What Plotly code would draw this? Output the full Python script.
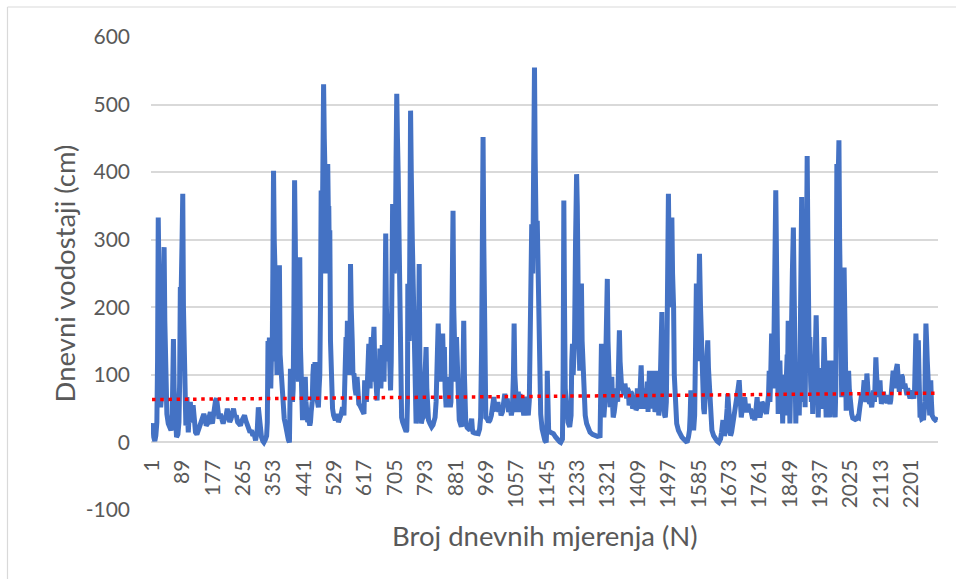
import plotly.graph_objects as go

# Daily water levels (day index N, level in cm), by period
seg_1 = [(1,22),(3,28),(6,8),(9,2),(12,10),(15,30),(17,120),(19,333),(21,250),(23,90),(26,52),(29,70),
         (32,140),(34,230),(36,289),(38,180),(41,60),(44,42),(48,28),(52,23),(56,18),(59,25),(61,60),
         (63,153),(65,80),(68,20),(72,8),(76,12),(79,30),(81,90),(83,230),(85,210),(88,300),(90,368),
         (92,200),(95,90),(97,60),(99,25),(102,67),(104,30),(106,15),(109,45),(112,60),(114,35),(117,30),
         (120,55),(123,25),(127,15),(131,12),(135,18),(139,22),(143,30),(147,35),(151,42),(155,35),
         (158,25),(162,28),(166,38),(170,45),(173,32),(176,28),(179,40),(182,55),(185,62),(188,65),
         (191,40),(195,35),(199,42),(203,30),(207,28),(211,35),(215,38),(219,50),(222,40),(226,30),
         (230,35),(234,45),(237,50),(241,38),(245,40),(249,30),(253,28),(257,25),(261,32),(265,35),
         (269,40),(273,32),(277,25),(281,20),(285,15),(289,18),(293,10),(297,12)]
seg_2 = [(301,3),(304,12),(306,20),(309,52),(312,35),(315,18),(318,8),(322,2),(325,0),(329,4),(333,10),
         (335,30),(337,150),(339,120),(341,155),(343,100),(345,80),(347,130),(349,120),(351,250),(353,402),
         (355,300),(357,260),(359,200),(361,120),(363,100),(366,150),(368,200),(370,262),(372,130),(374,110),
         (376,121),(378,70),(381,60),(384,35),(387,28),(390,15),(393,10),(396,4),(399,0),(401,50),(402,109),
         (404,60),(406,90),(408,60),(410,80),(412,200),(414,388),(416,300),(418,200),(420,260),(421,150),
         (423,120),(425,90),(427,180),(429,274),(431,140),(433,80),(435,50),(437,33),(439,45),(441,50),
         (443,80),(445,97),(447,60),(449,40),(452,30),(455,35),(458,25),(460,30),(462,45),(465,60),(467,100),
         (469,116),(471,70),(473,119),(475,90),(477,70),(480,60),(483,52),(485,80),(487,100),(489,200),
         (491,373),(493,300),(495,350),(498,530),(500,450),(502,400),(504,250),(506,300),(508,380),(510,412),
         (512,330),(513,350),(515,250),(516,314),(518,150),(521,67),(524,50),(527,40),(530,35),(532,33),
         (535,38),(538,42),(541,30),(545,35),(549,42),(553,52),(555,45),(557,40),(559,80),(561,120),(563,156),
         (565,110),(567,180),(569,130),(571,150),(573,100),(575,180),(576,264),(578,200),(581,150),(583,100),
         (586,102),(589,80),(592,70),(595,97),(597,60),(600,57),(603,55),(607,50),(611,45),(615,42),(617,92),
         (619,70),(622,60),(625,90),(627,120),(629,146),(631,100),(633,80),(634,130),(636,156),(638,110),
         (640,90),(642,150),(644,171),(646,120),(649,70),(651,80),(653,62),(655,90),(657,100),(659,80),
         (661,139),(663,100),(664,80),(666,120),(668,144),(670,110),(673,90),(675,150),(678,309),(680,200),
         (683,150),(685,120),(687,166),(689,120),(692,77),(694,120),(696,200)]
seg_3 = [(698,353),(700,280),(703,250),(705,280),(706,300),(708,420),(710,516),(712,450),(714,400),(716,300),
         (718,180),(720,100),(722,60),(724,37),(727,30),(730,25),(734,18),(737,16),(739,18),(741,60),(742,235),
         (744,180),(746,150),(748,300),(750,491),(752,400),(755,300),(757,250),(760,205),(762,150),(764,60),
         (766,28),(768,50),(770,87),(772,60),(773,150),(775,264),(777,120),(779,50),(781,28),(784,35),(787,37),
         (789,60),(791,100),(793,120),(795,141),(797,80),(799,45),(802,33),(806,28),(811,23),(815,26),(818,30),
         (821,37),(824,60),(826,100),(828,140),(830,176),(832,140),(834,100),(836,120),(838,90),(840,130),
         (843,161),(845,120),(848,141),(850,80),(853,52),(855,70),(858,60),(861,97),(863,70),(865,52),(867,60),
         (869,150),(871,300),(873,343),(875,200),(878,150),(880,90),(883,156),(885,100),(887,60),(889,40),
         (891,33),(894,28),(897,23),(900,40),(902,120),(904,180),(906,100),(908,40),(910,28),(914,22),(918,20),
         (922,18),(925,30),(927,35),(929,20),(931,15),(936,14),(941,13),(946,13),(950,20),(953,37),(956,150),
         (958,330),(960,452),(962,300),(964,100),(966,50),(968,37),(972,35),(976,30),(980,33),(984,40),(988,55),
         (991,67),(995,50),(999,47),(1003,60),(1006,45),(1009,52),(1012,40),(1016,45),(1019,60),(1023,72),
         (1026,55),(1030,65),(1034,45),(1038,57),(1042,40),(1045,50),(1048,100),(1050,176),(1052,100),(1055,57),
         (1058,45),(1062,75),(1065,50),(1067,72),(1070,45),(1073,60),(1075,52),(1078,40),(1080,68),(1084,42),
         (1088,50),(1091,40),(1094,62),(1096,185),(1098,120),(1101,323),(1104,250),(1106,400),(1109,555),
         (1111,420),(1114,300),(1117,328),(1120,200),(1123,116),(1125,70),(1127,42),(1131,20),(1135,8),(1139,3),
         (1143,0),(1145,30),(1146,106),(1148,40),(1150,18),(1155,15),(1160,14),(1164,13),(1170,8),(1175,4),
         (1178,3),(1182,1),(1185,0),(1190,5)]
seg_4 = [(1192,100),(1194,358),(1196,200),(1198,80),(1202,42),(1206,30),(1211,23),(1215,40),(1217,120),
         (1219,146),(1221,100),(1223,130),(1225,150),(1228,300),(1231,397),(1233,350),(1236,200),(1238,130),
         (1240,106),(1242,150),(1245,235),(1247,150),(1250,116),(1253,60),(1256,40),(1260,28),(1265,20),
         (1270,15),(1277,12),(1284,10),(1291,9),(1299,10),(1301,60),(1303,146),(1305,90),(1307,50),(1310,37),
         (1313,60),(1316,150),(1318,200),(1320,242),(1322,150),(1324,80),(1326,60),(1328,52),(1331,70),
         (1333,97),(1335,60),(1337,37),(1340,45),(1343,60),(1345,52),(1348,80),(1350,60),(1353,120),(1355,166),
         (1357,120),(1360,90),(1362,77),(1365,85),(1368,70),(1371,87),(1374,70),(1376,65),(1378,80),(1381,77),
         (1383,55),(1386,60),(1388,75),(1391,72),(1393,50),(1396,55),(1398,70),(1400,67),(1403,48),(1405,50),
         (1407,80),(1410,67),(1413,50),(1416,90),(1418,114),(1420,80),(1423,50),(1425,57),(1428,80),(1430,75),
         (1432,50),(1434,62),(1436,90),(1438,45),(1440,70),(1442,106),(1444,70),(1447,50),(1450,80),(1452,60),
         (1454,106),(1456,70),(1458,45),(1461,52),(1463,80),(1465,106),(1467,60),(1469,40),(1471,47),(1473,80),
         (1476,150),(1478,193),(1480,120),(1483,50),(1486,40),(1488,37),(1491,60),(1493,150),(1495,300),
         (1497,368),(1499,280),(1502,200),(1504,250),(1507,333),(1509,250),(1512,200),(1514,100),(1517,42),
         (1521,28),(1526,18),(1531,12),(1536,8),(1541,5),(1546,2),(1551,0),(1555,8),(1558,18),(1560,40),
         (1562,77),(1564,50),(1567,30),(1570,18),(1573,40),(1575,120),(1578,235),(1581,200),(1583,120),
         (1585,200),(1587,279),(1590,200),(1592,150),(1594,116),(1597,80),(1599,50),(1601,42),(1604,60),
         (1607,100),(1609,130),(1611,151),(1613,110),(1616,80),(1618,67),(1621,40),(1623,18),(1628,10),
         (1633,5),(1638,2),(1643,0),(1648,5),(1651,15),(1653,25),(1655,33),(1657,20),(1659,10),(1662,15),
         (1665,30),(1667,50),(1669,72),(1671,50),(1674,30),(1677,10),(1680,15),(1683,25),(1686,37)]
seg_5 = [(1690,45),(1694,52),(1697,70),(1699,80),(1702,92),(1704,60),(1706,45),(1708,37),(1711,50),(1714,60),
         (1718,67),(1721,50),(1724,45),(1728,57),(1731,45),(1735,50),(1738,42),(1741,35),(1744,40),(1747,33),
         (1750,45),(1752,60),(1754,67),(1756,50),(1759,40),(1762,37),(1765,45),(1768,60),(1771,57),(1774,45),
         (1778,50),(1781,42),(1784,55),(1787,70),(1789,106),(1791,60),(1793,90),(1796,161),(1798,100),(1800,80),
         (1802,120),(1804,250),(1806,320),(1808,373),(1810,280),(1812,150),(1815,42),(1818,110),(1820,121),
         (1822,70),(1824,50),(1826,90),(1828,28),(1831,100),(1833,60),(1834,97),(1836,70),(1837,40),(1839,100),
         (1841,130),(1842,90),(1844,180),(1846,100),(1847,60),(1849,28),(1851,80),(1853,120),(1855,180),
         (1856,250),(1859,318),(1861,200),(1862,100),(1864,60),(1866,28),(1868,80),(1869,110),(1871,60),
         (1873,87),(1875,60),(1876,40),(1878,100),(1880,200),(1883,363),(1885,250),(1886,120),(1888,80),
         (1890,60),(1891,90),(1893,52),(1895,150),(1896,250),(1899,424),(1901,300),(1903,200),(1905,120),
         (1907,156),(1909,90),(1911,60),(1913,100),(1915,42),(1917,80),(1919,130),(1922,120),(1925,188),
         (1927,120),(1928,80),(1930,50),(1931,37),(1933,80),(1935,110),(1937,70),(1939,97),(1941,50),(1944,60),
         (1946,110),(1948,156),(1950,120),(1951,90),(1953,50),(1954,37),(1956,80),(1957,110),(1959,90),
         (1960,121),(1962,70),(1963,50),(1965,37),(1967,80),(1968,100),(1970,121),(1972,90),(1974,60),
         (1976,110),(1977,90),(1979,50),(1980,37),(1982,80),(1983,150),(1985,412),(1987,330),(1988,380),
         (1990,420),(1991,447),(1993,300),(1995,200),(1997,110),(1999,67),(2001,90),(2003,120),(2005,200),
         (2006,259),(2008,180),(2010,120),(2011,80),(2012,47),(2014,60),(2016,80),(2018,100),(2019,106),
         (2021,80),(2023,60),(2025,45),(2028,42),(2031,36),(2035,33),(2038,34),(2042,35),(2045,38),(2048,37),
         (2051,50),(2054,60),(2057,72),(2060,65),(2062,80),(2064,92),(2066,70),(2069,60),(2072,102),(2074,80),
         (2077,62),(2080,58),(2083,60),(2086,52),(2089,65),(2091,77),(2094,60)]
seg_6 = [(2096,80),(2098,126),(2100,100),(2102,70),(2105,67),(2107,80),(2110,92),(2112,70),(2114,57),
         (2117,65),(2120,75),(2122,62),(2125,60),(2127,70),(2129,62),(2131,58),(2134,70),(2136,65),(2139,57),
         (2141,62),(2144,75),(2146,90),(2148,106),(2150,95),(2152,80),(2154,100),(2157,110),(2160,116),
         (2162,100),(2164,90),(2166,75),(2168,87),(2170,80),(2172,100),(2175,97),(2177,85),(2179,80),(2182,87),
         (2185,75),(2188,70),(2190,80),(2192,77),(2195,70),(2197,65),(2200,72),(2202,77),(2205,70),(2208,65),
         (2210,75),(2212,120),(2214,161),(2216,130),(2218,100),(2219,120),(2221,151),(2223,100),(2224,60),
         (2226,37),(2229,40),(2231,35),(2234,36),(2236,33),(2238,45),(2240,60),(2241,120),(2243,176),(2245,150),
         (2247,120),(2249,100),(2250,106),(2252,70),(2254,40),(2256,60),(2257,92),(2259,60),(2261,40),(2263,37),
         (2266,35),(2270,33),(2273,34),(2277,33)]

# Linear trend line (Excel trendline) end values
trend_days = [1, 2277]
trend_levels = [63.5, 73.0]

tick_labels = ["1", "89", "177", "265", "353", "441", "529", "617", "705", "793",
               "881", "969", "1057", "1145", "1233", "1321", "1409", "1497", "1585",
               "1673", "1761", "1849", "1937", "2025", "2113", "2201"]
y_ticks = [-100, 0, 100, 200, 300, 400, 500, 600]
y_tick_labels = ["-100", "0", "100", "200", "300", "400", "500", "600"]

points = seg_1 + seg_2 + seg_3 + seg_4 + seg_5 + seg_6
days = [p[0] for p in points]
levels = [p[1] for p in points]

TXT = "#595959"
FONT = "Lato"

fig = go.Figure()
fig.add_trace(go.Scatter(x=days, y=levels, mode="lines",
                         line=dict(color="#4472C4", width=5),
                         showlegend=False, hoverinfo="skip"))
fig.add_trace(go.Scatter(x=trend_days, y=trend_levels, mode="lines",
                         line=dict(color="#FF0000", width=3.5, dash="3.5px,4.7px"),
                         showlegend=False, hoverinfo="skip"))

fig.update_layout(
    width=956, height=579,
    margin=dict(l=151, r=18, t=37, b=69),
    paper_bgcolor="white", plot_bgcolor="white",
    font=dict(family=FONT, color=TXT, size=21),
    xaxis=dict(
        range=[-2, 2278],
        anchor="free", position=100 / 700,
        tickmode="array", tickvals=[int(t) for t in tick_labels], ticktext=tick_labels,
        tickangle=-90, showgrid=False, zeroline=False, showline=False, ticks="",
        ticklabelstandoff=12,
        tickfont=dict(family=FONT, color=TXT, size=21),
    ),
    yaxis=dict(
        range=[-100, 600], tickmode="array", tickvals=y_ticks, ticktext=y_tick_labels,
        showgrid=True, gridcolor="#d9d9d9", gridwidth=1.8,
        zeroline=False, showline=False, ticks="", ticklabelstandoff=20,
        tickfont=dict(family=FONT, color=TXT, size=21),
        title=dict(text="Dnevni vodostaji (cm)", font=dict(family=FONT, color=TXT, size=27.5),
                   standoff=2),
    ),
    annotations=[dict(text="Broj dnevnih mjerenja (N)", x=0.5, y=(510 - 535) / 473,
                      xref="paper", yref="paper", xanchor="center", yanchor="middle",
                      showarrow=False, font=dict(family=FONT, color=TXT, size=27.5))],
    shapes=[
        dict(type="line", xref="paper", yref="paper", x0=(7.5 - 151) / 787, x1=(7.5 - 151) / 787,
             y0=(510 - 580) / 473, y1=(510 - 7) / 473, line=dict(color="#d9d9d9", width=1.2)),
        dict(type="line", xref="paper", yref="paper", x0=(7.5 - 151) / 787, x1=(957 - 151) / 787,
             y0=(510 - 7) / 473, y1=(510 - 7) / 473, line=dict(color="#d9d9d9", width=1.2)),
    ],
)

fig.write_html("out.html", config={"displayModeBar": False},
               post_script="document.body.style.margin='0';")
